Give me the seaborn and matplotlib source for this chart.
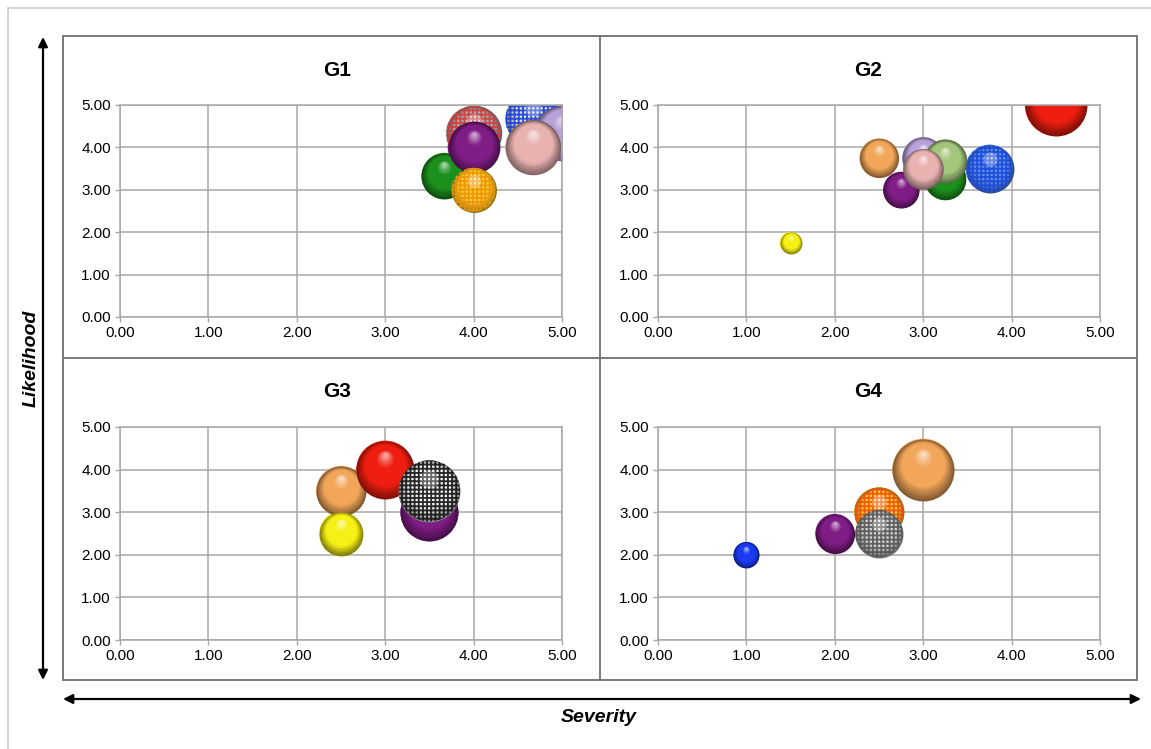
import numpy as np
import pandas as pd
import matplotlib
matplotlib.use("Agg")
import matplotlib.pyplot as plt
from matplotlib.colors import to_rgb
from matplotlib.transforms import offset_copy
from matplotlib.patches import Rectangle, FancyArrowPatch
from matplotlib.lines import Line2D
import seaborn as sns

# ---------------- data ----------------
g1_items = ["red_check", "blue_check", "lavender", "green", "purple", "pink", "yellow_check"]
g1_severity = [4.0, 4.67, 5.0, 3.67, 4.0, 4.67, 4.0]
g1_likelihood = [4.33, 4.67, 4.33, 3.33, 4.0, 4.0, 3.0]
g1_impact = [8.0, 8.0, 8.0, 5.5, 7.0, 8.0, 5.25]

g2_items = ["yellow", "red", "orange", "purple", "green", "lavender", "light_green", "pink", "blue_check2"]
g2_severity = [1.5, 4.5, 2.5, 2.75, 3.25, 3.0, 3.25, 3.0, 3.75]
g2_likelihood = [1.75, 5.0, 3.75, 3.0, 3.25, 3.75, 3.67, 3.5, 3.5]
g2_impact = [1.25, 10.0, 4.0, 3.4, 4.5, 4.6, 5.0, 4.3, 6.0]

g3_items = ["orange", "red", "yellow", "purple", "black_check"]
g3_severity = [2.5, 3.0, 2.5, 3.5, 3.5]
g3_likelihood = [3.5, 4.0, 2.5, 3.0, 3.5]
g3_impact = [6.5, 8.75, 5.0, 8.75, 10.0]

g4_items = ["blue", "purple", "orange", "orange_check", "gray_check"]
g4_severity = [1.0, 2.0, 3.0, 2.5, 2.5]
g4_likelihood = [2.0, 2.5, 4.0, 3.0, 2.5]
g4_impact = [1.75, 4.0, 10.0, 6.5, 6.0]

groups = ["G1", "G2", "G3", "G4"]
axis_ticks = [0, 1, 2, 3, 4, 5]

# ---------------- styles ----------------
palette = {
    "red": "#f01e10",
    "red_check": "#9fb0b0",
    "blue_check": "#d8e6a0",
    "blue_check2": "#5a8ef0",
    "lavender": "#b9a2da",
    "purple": "#801c86",
    "pink": "#e8b2b0",
    "green": "#1c901c",
    "yellow_check": "#f8d020",
    "yellow": "#f6f014",
    "orange": "#f2a65a",
    "light_green": "#a4c67c",
    "black_check": "#f6f6f6",
    "orange_check": "#f8d030",
    "gray_check": "#d4d4d4",
    "blue": "#1a3af2",
}
hatch_colors = {
    "red_check": "#d83a3a",
    "blue_check": "#1838f0",
    "blue_check2": "#1a48d8",
    "yellow_check": "#ee9010",
    "black_check": "#111111",
    "orange_check": "#f05010",
    "gray_check": "#555555",
}

SMAX = 1990.0  # marker area (pt^2) for impact 10

sns.set_theme(style="whitegrid")
plt.rcParams["font.family"] = ["Liberation Sans", "DejaVu Sans"]
plt.rcParams["hatch.linewidth"] = 1.3

W, H = 1151, 749
fig = plt.figure(figsize=(W / 100, H / 100), dpi=100)
fig.patch.set_facecolor("white")


def fx(px):
    return px / W


def fy(py):
    return 1 - py / H


def draw_sphere(ax, x, y, s, color, z, hatch_color=None):
    """Shaded ball built from stacked, upward-shifted discs."""
    R = np.sqrt(s) / 2.0
    base = np.array(to_rgb(color))
    dark = base * 0.55
    white = np.ones(3)
    n = 20
    for k in range(n):
        t = k / (n - 1)
        r = R * (1 - 0.93 * t)
        dy = (R - r) * 0.55
        if t < 0.3:
            c = dark + (base - dark) * (t / 0.3)
        elif t < 0.72:
            c = base
        else:
            c = base + (white - base) * ((t - 0.72) / 0.28) * 0.6
        tr = offset_copy(ax.transData, fig=ax.figure, x=0, y=dy, units="points")
        ax.scatter([x], [y], s=(2 * r) ** 2, color=np.clip(c, 0, 1),
                   linewidths=0, transform=tr, zorder=z + k * 1e-3)
    if hatch_color is not None:
        ax.scatter([x], [y], s=s * 0.98, facecolors="none", edgecolors=hatch_color,
                   linewidths=0, hatch="++++", alpha=0.9, zorder=z + 0.05)
        tr = offset_copy(ax.transData, fig=ax.figure, x=0, y=R * 0.4, units="points")
        ax.scatter([x], [y], s=(R * 0.6) ** 2, color="white", alpha=0.3,
                   linewidths=0, transform=tr, zorder=z + 0.06)


panel_data = [
    (g1_items, g1_severity, g1_likelihood, g1_impact),
    (g2_items, g2_severity, g2_likelihood, g2_impact),
    (g3_items, g3_severity, g3_likelihood, g3_impact),
    (g4_items, g4_severity, g4_likelihood, g4_impact),
]
# plot-area rectangles in pixels
areas = [(120, 105, 562, 317), (658, 105, 1100, 317),
         (120, 427, 562, 640), (658, 427, 1100, 640)]
title_pos = [(337, 70), (868, 70), (337, 392), (868, 392)]

for (items, sev, lik, imp), (x0, y0, x1, y1), name, (tx, ty) in zip(
        panel_data, areas, groups, title_pos):
    ax = fig.add_axes([fx(x0), fy(y1), fx(x1 - x0), (y1 - y0) / H])
    df = pd.DataFrame({"item": items, "Severity": sev, "Likelihood": lik, "Impact": imp})
    sns.scatterplot(data=df, x="Severity", y="Likelihood", hue="item", palette=palette,
                    size="Impact", sizes=(0, SMAX), size_norm=(0, 10),
                    legend=False, linewidth=0, ax=ax, zorder=1)
    coll = ax.collections[0]
    offs = coll.get_offsets()
    sizes = coll.get_sizes()
    for i, item in enumerate(items):
        draw_sphere(ax, offs[i][0], offs[i][1], sizes[i], palette[item],
                    z=2 + i * 0.1, hatch_color=hatch_colors.get(item))

    ax.set_xlim(0, 5)
    ax.set_ylim(0, 5)
    ax.set_xticks(axis_ticks)
    ax.set_yticks(axis_ticks)
    ax.set_xticklabels([f"{v:.2f}" for v in axis_ticks])
    ax.set_yticklabels([f"{v:.2f}" for v in axis_ticks])
    ax.set_xlabel("")
    ax.set_ylabel("")
    ax.set_facecolor("white")
    ax.grid(True, color="#a8a8a8", linewidth=1.1)
    for sp in ax.spines.values():
        sp.set_color("#a8a8a8")
        sp.set_linewidth(1.1)
    ax.tick_params(axis="both", which="major", length=3.5, width=1.0, color="#a8a8a8",
                   labelsize=11, labelcolor="black", pad=3, direction="out")
    ax.tick_params(bottom=True, left=True)
    fig.text(fx(tx), fy(ty), name, ha="center", va="center", fontsize=15,
             fontweight="bold", color="black")

# panel frame and dividers
fig.add_artist(Rectangle((fx(63), fy(680)), fx(1137 - 63), (680 - 36) / H,
                         transform=fig.transFigure, fill=False,
                         edgecolor="#6e6e6e", linewidth=1.3))
fig.add_artist(Line2D([fx(600), fx(600)], [fy(680), fy(36)],
                      transform=fig.transFigure, color="#6e6e6e", linewidth=1.3))
fig.add_artist(Line2D([fx(63), fx(1137)], [fy(358), fy(358)],
                      transform=fig.transFigure, color="#6e6e6e", linewidth=1.3))

# outer light border (top and left)
fig.add_artist(Line2D([fx(8), 1.0], [fy(8), fy(8)], transform=fig.transFigure,
                      color="#cccccc", linewidth=1.2))
fig.add_artist(Line2D([fx(8), fx(8)], [0.0, fy(8)], transform=fig.transFigure,
                      color="#cccccc", linewidth=1.2))

# axis arrows
arrow_kw = dict(arrowstyle="<|-|>", color="black", lw=1.6, mutation_scale=14,
                shrinkA=0, shrinkB=0)
fig.add_artist(FancyArrowPatch((fx(43), fy(680)), (fx(43), fy(37)),
                               transform=fig.transFigure, **arrow_kw))
fig.add_artist(FancyArrowPatch((fx(63), fy(699)), (fx(1141), fy(699)),
                               transform=fig.transFigure, **arrow_kw))

fig.text(fx(31), fy(358), "Likelihood", rotation=90, ha="center", va="center",
         fontsize=14, fontweight="bold", fontstyle="italic", color="black")
fig.text(fx(599), fy(717), "Severity", ha="center", va="center",
         fontsize=14, fontweight="bold", fontstyle="italic", color="black")

fig.savefig("out.png", dpi=100, facecolor="white")
